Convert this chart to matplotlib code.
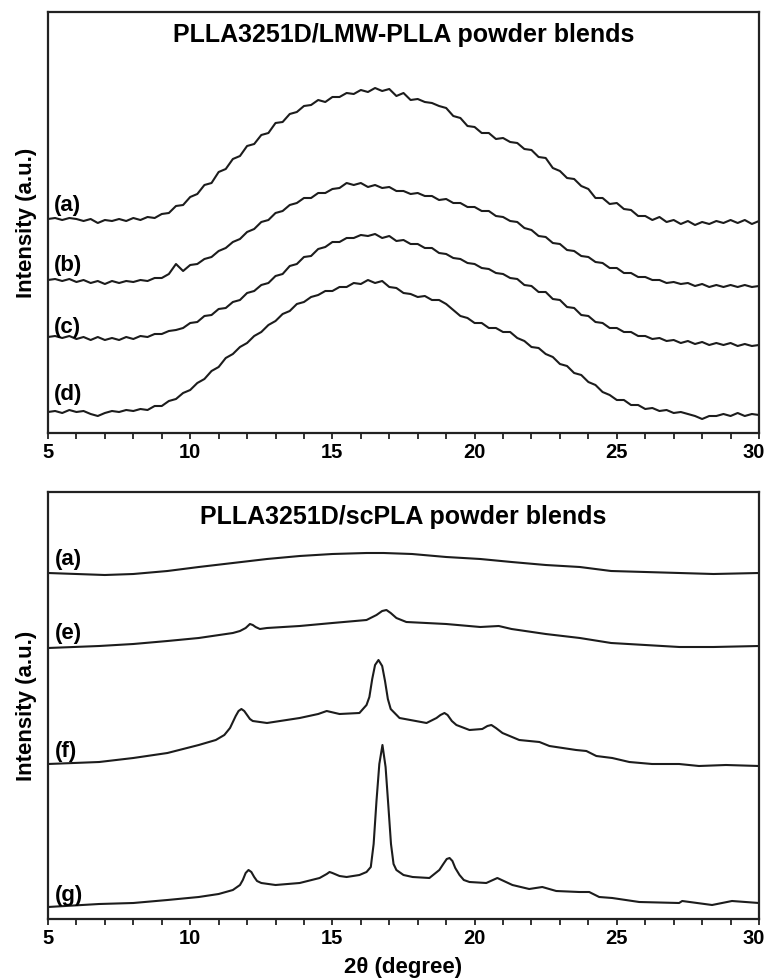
'''XRD patterns of PLLA3251D powder blends'''
import numpy as np
import matplotlib
matplotlib.use('Agg')
import matplotlib.pyplot as plt
from matplotlib.ticker import MultipleLocator

plt.rcParams['font.family'] = ['Liberation Sans', 'DejaVu Sans']
plt.rcParams['font.weight'] = 'bold'

# ---- top panel : PLLA3251D/LMW-PLLA, 2theta grid 5..30 step 0.25
two_theta = np.arange(5.0, 30.001, 0.25)

curve_a = [214, 215, 213, 215, 214, 212, 214, 210, 213, 212,
           214, 212, 215, 213, 216, 215, 219, 220, 227, 228,
           236, 239, 248, 250, 261, 264, 274, 277, 287, 289,
           298, 300, 310, 311, 319, 321, 327, 328, 333, 331,
           336, 336, 340, 339, 343, 341, 345, 342, 344, 337,
           340, 333, 334, 331, 330, 327, 325, 317, 315, 307,
           306, 300, 300, 294, 295, 291, 290, 284, 283, 276,
           275, 265, 262, 255, 254, 247, 244, 235, 235, 229,
           230, 224, 223, 217, 217, 213, 216, 211, 213, 209,
           212, 208, 211, 209, 212, 210, 213, 210, 213, 209, 212]
curve_b = [153, 154, 152, 154, 151, 153, 150, 152, 149, 152,
           150, 152, 151, 153, 152, 155, 155, 159, 169, 162,
           168, 169, 174, 176, 182, 185, 191, 194, 201, 204,
           211, 213, 220, 222, 228, 230, 235, 235, 240, 240,
           244, 245, 250, 248, 250, 246, 248, 245, 246, 242,
           242, 239, 240, 237, 237, 233, 234, 230, 230, 226,
           226, 222, 222, 217, 216, 212, 211, 205, 203, 197,
           196, 190, 189, 183, 182, 177, 176, 171, 170, 165,
           165, 160, 160, 156, 156, 153, 153, 150, 151, 149,
           150, 147, 149, 146, 148, 146, 148, 146, 148, 146, 147]
curve_c = [96, 97, 95, 97, 94, 96, 93, 96, 93, 95,
           93, 96, 94, 97, 96, 99, 99, 102, 103, 105,
           110, 111, 117, 118, 124, 125, 131, 133, 140, 142,
           148, 150, 157, 159, 167, 169, 176, 177, 184, 186,
           191, 191, 195, 195, 198, 197, 199, 195, 197, 192,
           193, 189, 189, 185, 185, 180, 179, 175, 174, 170,
           169, 165, 164, 160, 159, 155, 154, 148, 147, 141,
           141, 134, 133, 126, 125, 118, 117, 111, 110, 105,
           105, 101, 101, 97, 97, 94, 95, 92, 93, 90,
           92, 89, 91, 88, 90, 88, 90, 87, 89, 87, 88]
curve_d = [21, 22, 20, 23, 21, 22, 19, 17, 20, 22,
           21, 23, 22, 24, 23, 27, 27, 32, 34, 40,
           43, 50, 54, 62, 66, 75, 79, 86, 90, 97,
           101, 108, 112, 119, 122, 129, 131, 136, 138, 142,
           142, 146, 146, 150, 149, 153, 150, 152, 146, 145,
           140, 139, 136, 137, 133, 133, 129, 123, 117, 115,
           110, 110, 105, 105, 101, 101, 95, 92, 86, 85,
           79, 76, 69, 67, 60, 58, 51, 48, 41, 38,
           33, 33, 28, 28, 24, 25, 22, 23, 20, 21,
           19, 17, 14, 17, 17, 19, 17, 20, 17, 19, 18]
top_labels = ['(a)', '(b)', '(c)', '(d)']
top_label_y = [228, 168, 106, 39]

# ---- bottom panel : PLLA3251D/scPLA
a2_x = [5.0, 6.0, 7.0, 8.0, 9.2, 10.3, 11.5, 12.7, 13.85, 15.0, 16.2, 16.8,
        17.8, 19.0, 20.2, 21.3, 22.5, 23.7, 24.8, 26.0, 27.2, 28.4, 30.0]
a2_y = [346, 345, 344, 345, 348, 352, 356, 360, 363, 365, 366, 366,
        365, 362, 360, 357, 354, 352, 348, 347, 346, 345, 346]

e_x = [5.0, 6.8, 8.0, 9.2, 10.3, 11.5, 11.75, 11.95, 12.1, 12.2, 12.3, 12.45,
       12.7, 13.85, 15.0, 16.2, 16.55, 16.75, 16.9, 17.05, 17.25, 17.6, 19.0,
       20.2, 20.85, 21.3, 22.5, 23.7, 24.8, 26.0, 27.2, 28.4, 30.0]
e_y = [271, 273, 275, 278, 281, 286, 288, 291, 295, 294, 292, 290,
       291, 293, 296, 299, 304, 308, 309, 306, 301, 297, 295,
       292, 293, 290, 285, 281, 276, 274, 272, 272, 273]

f_x = [5.0, 6.8, 8.0, 9.2, 10.3, 10.9, 11.2, 11.4, 11.6, 11.7, 11.8, 11.9,
       12.0, 12.1, 12.2, 12.7, 13.85, 14.5, 14.8, 15.25, 15.95, 16.2, 16.3,
       16.4, 16.5, 16.62, 16.75, 16.85, 16.95, 17.05, 17.36, 18.31, 18.66,
       18.8, 18.94, 19.05, 19.2, 19.36, 19.82, 20.27, 20.45, 20.59, 20.75,
       20.98, 21.57, 22.28, 22.63, 23.57, 23.93, 24.28, 24.84, 25.44, 26.24,
       27.19, 27.89, 28.84, 30.0]
f_y = [155, 157, 161, 166, 174, 179, 184, 191, 203, 208, 210, 208,
       204, 200, 198, 196, 201, 205, 208, 205, 206, 214, 222,
       240, 254, 259, 253, 238, 220, 210, 201, 196, 201,
       204, 206, 204, 198, 194, 189, 190, 193, 194, 191,
       186, 179, 177, 173, 169, 168, 163, 161, 157, 155,
       155, 153, 154, 153]

g_x = [5.0, 6.8, 8.0, 9.2, 10.3, 11.0, 11.5, 11.75, 11.85, 11.95, 12.05, 12.15,
       12.25, 12.35, 12.5, 13.0, 13.85, 14.55, 14.8, 14.9, 15.0, 15.25, 15.5,
       15.95, 16.2, 16.35, 16.45, 16.55, 16.65, 16.76, 16.87, 16.97, 17.06,
       17.15, 17.25, 17.5, 17.82, 18.41, 18.76, 18.9, 19.02, 19.12, 19.22,
       19.32, 19.47, 19.62, 19.82, 20.41, 20.8, 21.33, 21.92, 22.38, 22.87,
       23.68, 24.03, 24.38, 24.84, 25.79, 27.19, 27.3, 28.35, 29.05, 30.0]
g_y = [12, 15, 16, 19, 22, 25, 29, 34, 39, 46, 49, 47,
       42, 38, 36, 34, 36, 41, 45, 47, 46, 43, 42,
       44, 47, 52, 75, 118, 155, 174, 152, 112, 75,
       55, 49, 44, 42, 41, 49, 55, 60, 61, 58,
       51, 44, 39, 37, 36, 41, 34, 30, 32, 28,
       27, 27, 22, 21, 17, 16, 18, 14, 18, 16]
bottom_labels = ['(a)', '(e)', '(f)', '(g)']
bottom_label_y = [360, 286, 168, 24]

x_major = [5, 10, 15, 20, 25, 30]
x_major_labels = ['5', '10', '15', '20', '25', '30']

LINE_C = '#1c1c1c'
LW = 1.5
TXT = 16          # 曲線標籤字級
TICK_FS = 14.5
TICK_LEN = 4.5
TICK_PAD = 3


def style_axes(ax, ymax):
    '''框線、刻度'''
    ax.set_xlim(5, 30)
    ax.set_ylim(0, ymax)
    ax.set_yticks([])
    ax.set_xticks(x_major)
    # 最右端 "30" 另外畫，稍微左移，免得被圖邊裁掉
    ax.set_xticklabels(x_major_labels[:-1] + [''], fontweight='bold')
    ax.annotate(x_major_labels[-1], xy=(x_major[-1], 0),
                xycoords=('data', 'axes fraction'),
                xytext=(-3.5, -(TICK_LEN + TICK_PAD)), textcoords='offset points',
                ha='center', va='top', fontsize=TICK_FS, fontweight='bold')
    ax.xaxis.set_minor_locator(MultipleLocator(1))
    ax.tick_params(axis='x', which='both', direction='out', length=TICK_LEN,
                   width=1.3, color='#222222', labelsize=TICK_FS, pad=TICK_PAD)
    for sp in ax.spines.values():
        sp.set_linewidth(1.6)
        sp.set_color('#222222')
    ax.set_ylabel('Intensity (a.u.)', fontsize=16, fontweight='bold', labelpad=8)


fig = plt.figure(figsize=(7.67, 9.80), dpi=100)

# top
ax1 = fig.add_axes([48/767, 1-433/980, 711/767, 421/980])
for yy in [curve_a, curve_b, curve_c, curve_d]:
    ax1.plot(two_theta, yy, color=LINE_C, lw=LW)
for lab, yy in zip(top_labels, top_label_y):
    ax1.text(5.22, yy, lab, fontsize=TXT, fontweight='bold', ha='left', va='center')
ax1.text(0.5, 0.928, 'PLLA3251D/LMW-PLLA powder blends', transform=ax1.transAxes,
         ha='center', va='baseline', fontsize=18, fontweight='bold')
style_axes(ax1, 421)

# bottom
ax2 = fig.add_axes([48/767, 1-919/980, 711/767, 427/980])
ax2.plot(a2_x, a2_y, color=LINE_C, lw=LW)
ax2.plot(e_x, e_y, color=LINE_C, lw=LW)
ax2.plot(f_x, f_y, color=LINE_C, lw=LW)
ax2.plot(g_x, g_y, color=LINE_C, lw=LW)
for lab, yy in zip(bottom_labels, bottom_label_y):
    ax2.text(5.25, yy, lab, fontsize=TXT, fontweight='bold', ha='left', va='center')
ax2.text(0.5, 0.925, 'PLLA3251D/scPLA powder blends', transform=ax2.transAxes,
         ha='center', va='baseline', fontsize=18, fontweight='bold')
style_axes(ax2, 427)
ax2.set_xlabel('2θ (degree)', fontsize=16, fontweight='bold', labelpad=6)

fig.savefig('out.png', dpi=100)
